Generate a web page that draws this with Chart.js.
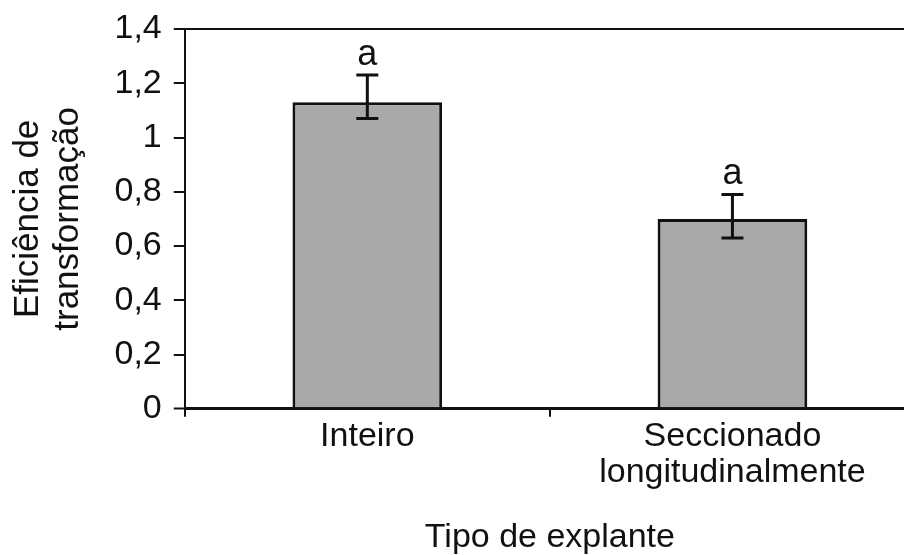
<!DOCTYPE html>
<html>
<head>
<meta charset="utf-8">
<script src="https://cdn.jsdelivr.net/npm/chart.js@4.4.1/dist/chart.umd.min.js"></script>
<style>
html,body{margin:0;padding:0;background:#fff;overflow:hidden;}
#wrap{width:904px;height:555px;overflow:hidden;position:relative;}
canvas{display:block;}
</style>
</head>
<body>
<div id="wrap"><canvas id="c" width="930" height="560"></canvas></div>
<script>
const categories = [["Inteiro"], ["Seccionado", "longitudinalmente"]];
const means = [1.13, 0.70];
const errLow = [1.07, 0.63];
const errHigh = [1.23, 0.79];
const sigLetters = ["a", "a"];
const yTickValues = [0, 0.2, 0.4, 0.6, 0.8, 1, 1.2, 1.4];
const yTitle = ["Eficiência de", "transformação"];
const xTitle = "Tipo de explante";

const FONT = "'Liberation Sans', Arial, sans-serif";
const INK = "#111111";

const errPlugin = {
  id: "errbars",
  afterDatasetsDraw(chart) {
    const ctx = chart.ctx;
    const xs = chart.scales.x, ys = chart.scales.y;
    ctx.save();
    ctx.strokeStyle = INK;
    ctx.lineWidth = 3;
    means.forEach((m, i) => {
      const x = xs.getPixelForValue(i);
      const yl = ys.getPixelForValue(errLow[i]);
      const yh = ys.getPixelForValue(errHigh[i]);
      ctx.beginPath();
      ctx.moveTo(x, yl); ctx.lineTo(x, yh);
      ctx.moveTo(x - 11, yh); ctx.lineTo(x + 11, yh);
      ctx.moveTo(x - 11, yl); ctx.lineTo(x + 11, yl);
      ctx.stroke();
      ctx.fillStyle = INK;
      ctx.font = "36px " + FONT;
      ctx.textAlign = "center";
      ctx.textBaseline = "alphabetic";
      ctx.fillText(sigLetters[i], x, yh - 10);
    });
    ctx.restore();
  }
};

new Chart(document.getElementById("c"), {
  type: "bar",
  data: {
    labels: categories,
    datasets: [{
      data: means,
      backgroundColor: "#a9a9a9",
      borderColor: INK,
      borderWidth: 3,
      barPercentage: 0.82,
      categoryPercentage: 0.5
    }]
  },
  options: {
    responsive: false,
    animation: false,
    devicePixelRatio: 1,
    layout: { padding: { left: 0, right: 15, top: 28, bottom: 0 } },
    plugins: { legend: { display: false }, tooltip: { enabled: false } },
    scales: {
      x: {
        offset: true,
        border: { display: false },
        grid: {
          offset: true,
          drawOnChartArea: false,
          color: INK,
          tickColor: INK,
          tickLength: 8,
          lineWidth: 2
        },
        ticks: { color: INK, font: { family: FONT, size: 34, lineHeight: 1.05 }, padding: 2, maxRotation: 0, autoSkip: false },
        title: { display: true, text: xTitle, color: INK, font: { family: FONT, size: 34, lineHeight: 1.2 }, padding: { top: 25, bottom: 2 } }
      },
      y: {
        min: 0, max: 1.4,
        afterBuildTicks(scale) { scale.ticks = yTickValues.map(v => ({ value: v })); },
        border: { display: true, color: INK, width: 2 },
        grid: {
          color: c => (c.tick && (c.tick.value === 0 || c.tick.value === 1.4)) ? INK : "rgba(0,0,0,0)",
          lineWidth: c => (c.tick && c.tick.value === 0) ? 3 : 2,
          tickColor: INK,
          tickWidth: 2,
          tickLength: 11
        },
        ticks: {
          color: INK,
          font: { family: FONT, size: 34, lineHeight: 1.0 },
          padding: 12,
          callback: v => String(Number(v.toFixed(1))).replace(".", ",")
        },
        title: { display: true, text: yTitle, color: INK, font: { family: FONT, size: 35, lineHeight: 1.15 }, padding: { top: 8, bottom: 14 } }
      }
    }
  },
  plugins: [errPlugin]
});
</script>
</body>
</html>
